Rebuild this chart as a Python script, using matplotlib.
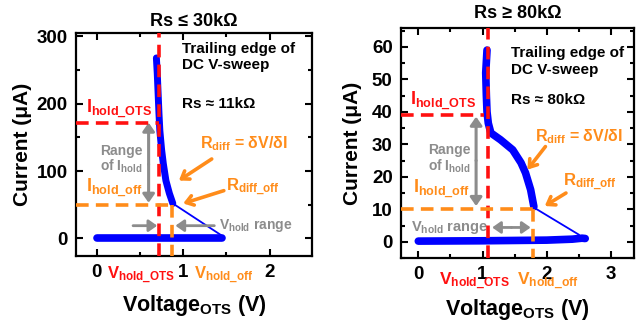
import matplotlib
matplotlib.use('Agg')
import matplotlib.pyplot as plt
from matplotlib.ticker import MultipleLocator
import matplotlib.transforms as mtransforms

plt.rcParams['font.family'] = ['Liberation Sans', 'DejaVu Sans']
plt.rcParams['font.weight'] = 'bold'
plt.rcParams['mathtext.fontset'] = 'custom'
plt.rcParams['mathtext.rm'] = 'Liberation Sans:bold'
plt.rcParams['mathtext.bf'] = 'Liberation Sans:bold'
plt.rcParams['mathtext.it'] = 'Liberation Sans:bold'
plt.rcParams['mathtext.default'] = 'rm'

# Datos leidos del grafico original
# Panel izquierdo: Rs <= 30 kOhm
izq_v_subida = [0.69, 0.70, 0.71, 0.72, 0.73, 0.75, 0.77, 0.80, 0.84, 0.88]
izq_i_subida = [268, 245, 215, 185, 160, 132, 111, 86, 67, 52]
izq_v_fina = [0.88, 1.45]
izq_i_fina = [52, 4]
izq_v_banda = [0.0, 1.45]
izq_i_banda = [0.0, 0.0]
izq_v_hold_ots = 0.72
izq_v_hold_off = 0.87
izq_i_hold_ots = 172
izq_i_hold_off = 50

# Panel derecho: Rs >= 80 kOhm
der_v_subida = [1.07, 1.05, 1.06, 1.07, 1.09, 1.13, 1.28, 1.47, 1.60, 1.67, 1.75, 1.80]
der_i_subida = [59, 52, 45, 40, 36.5, 33.5, 31.4, 28.3, 24.3, 21.2, 16, 10.8]
der_v_fina = [1.82, 2.50]
der_i_fina = [10.3, 2.2]
der_v_banda = [0.0, 1.0, 2.0, 2.4, 2.55, 2.6]
der_i_banda = [0.2, 0.3, 0.5, 0.8, 1.1, 1.0]
der_v_hold_ots = 1.09
der_v_hold_off = 1.79
der_i_hold_ots = 39
der_i_hold_off = 10

ROJO = '#ff1010'
NARANJA = '#ff8c1a'
GRIS = '#8c8c8c'
AZUL = '#0000ff'


def preparar_ejes(ax, xlim, ylim, xmaj, ymaj):
    ax.set_xlim(*xlim)
    ax.set_ylim(*ylim)
    ax.xaxis.set_major_locator(MultipleLocator(xmaj))
    ax.xaxis.set_minor_locator(MultipleLocator(xmaj / 2))
    ax.yaxis.set_major_locator(MultipleLocator(ymaj))
    ax.yaxis.set_minor_locator(MultipleLocator(ymaj / 2))
    ax.tick_params(which='both', direction='in', top=True, right=True, width=1.5)
    ax.tick_params(which='major', length=5, labelsize=13.5, pad=6)
    ax.tick_params(which='minor', length=3)
    for s in ax.spines.values():
        s.set_linewidth(1.6)
    for lab in ax.get_xticklabels() + ax.get_yticklabels():
        lab.set_fontweight('bold')
    ax.set_xlabel('Voltage$_{OTS}$ (V)', fontsize=15.5, fontweight='bold')
    ax.set_ylabel('Current (\u03bcA)', fontsize=15, fontweight='bold')


def flecha(ax, inicio, fin, color, estilo='->', lw=2.2):
    ax.annotate('', xy=fin, xytext=inicio,
                arrowprops=dict(arrowstyle=estilo + ',head_width=0.35,head_length=0.5',
                                color=color, lw=lw, shrinkA=0, shrinkB=0))


fig = plt.figure(figsize=(6.42, 3.21), dpi=100)
ax1 = fig.add_axes([76 / 642, 1 - 256 / 321, 236 / 642, 223 / 321])
ax2 = fig.add_axes([401 / 642, 1 - 258 / 321, 233 / 642, 230 / 321])

# ----- Panel izquierdo -----
preparar_ejes(ax1, (-0.24, 2.49), (-26, 305), 1, 100)
ax1.plot(izq_v_banda, izq_i_banda, color=AZUL, lw=5.5, solid_capstyle='round', zorder=3)
ax1.plot(izq_v_fina, izq_i_fina, color=AZUL, lw=1.3, zorder=3)
ax1.plot(izq_v_subida, izq_i_subida, color=AZUL, lw=5, solid_capstyle='round', zorder=3)
ax1.axvline(izq_v_hold_ots, color=ROJO, lw=2.6, dashes=(3.5, 2), zorder=4)
ax1.plot([-0.24, izq_v_hold_ots], [izq_i_hold_ots] * 2, color=ROJO, lw=2.6, dashes=(3.5, 2), zorder=4)
ax1.plot([-0.24, izq_v_hold_off], [izq_i_hold_off] * 2, color=NARANJA, lw=2.6, dashes=(3.5, 2), zorder=4)
ax1.plot([izq_v_hold_off] * 2, [izq_i_hold_off, -26], color=NARANJA, lw=2.6, dashes=(3.5, 2), zorder=4)

ax1.set_title('Rs \u2264 30k\u03a9', fontsize=13, fontweight='bold', pad=5)
ax1.text(0.99, 269, 'Trailing edge of\nDC V-sweep', fontsize=11, va='center', linespacing=1.2)
ax1.text(0.99, 200, 'Rs \u2248 11k\u03a9', fontsize=11, va='center')
ax1.text(-0.13, 192, 'I$_{hold\\_OTS}$', color=ROJO, fontsize=13, va='center')
ax1.text(-0.13, 74, 'I$_{hold\\_off}$', color=NARANJA, fontsize=13, va='center')
ax1.text(0.29, 117, 'Range\nof I$_{hold}$', color=GRIS, fontsize=10, ha='center', va='center',
         linespacing=1.0)
flecha(ax1, (0.60, 110), (0.60, izq_i_hold_ots), GRIS, '-|>', 2.2)
flecha(ax1, (0.60, 110), (0.60, izq_i_hold_off + 3), GRIS, '-|>', 2.2)
flecha(ax1, (0.42, 19), (0.70, 19), GRIS, '-|>', 2)
flecha(ax1, (1.36, 19), (0.91, 19), GRIS, '-|>', 2)
ax1.text(1.41, 19, 'V$_{hold}$ range', color=GRIS, fontsize=10, va='center')
ax1.text(1.2, 141, 'R$_{diff}$ = \u03b4V/\u03b4I', color=NARANJA, fontsize=11.5, va='center')
ax1.text(1.5, 76, 'R$_{diff\\_off}$', color=NARANJA, fontsize=12, va='center')
flecha(ax1, (1.33, 118), (0.95, 86), NARANJA, '->', 2.6)
flecha(ax1, (1.47, 71), (1.0, 52), NARANJA, '->', 2.6)

tr1 = mtransforms.blended_transform_factory(ax1.transData, ax1.transAxes)
ax1.text(0.12, -0.103, 'V$_{hold\\_OTS}$', color=ROJO, fontsize=12, transform=tr1, va='baseline')
ax1.text(1.12, -0.103, 'V$_{hold\\_off}$', color=NARANJA, fontsize=12, transform=tr1, va='baseline')
ax1.xaxis.set_label_coords(0.5, -0.165)
ax1.yaxis.set_label_coords(-0.186, 0.5)

# ----- Panel derecho -----
preparar_ejes(ax2, (-0.27, 3.36), (-5, 65.8), 1, 10)
ax2.plot(der_v_banda, der_i_banda, color=AZUL, lw=5.5, solid_capstyle='round', zorder=3)
ax2.plot(der_v_fina, der_i_fina, color=AZUL, lw=1.3, zorder=3)
ax2.plot(der_v_subida, der_i_subida, color=AZUL, lw=5.5, solid_capstyle='round', zorder=3)
ax2.axvline(der_v_hold_ots, color=ROJO, lw=2.6, dashes=(3.5, 2), zorder=4)
ax2.plot([-0.27, 1.03], [der_i_hold_ots] * 2, color=ROJO, lw=2.6, dashes=(3.5, 2), zorder=4)
ax2.plot([-0.27, der_v_hold_off], [der_i_hold_off] * 2, color=NARANJA, lw=2.6, dashes=(3.5, 2), zorder=4)
ax2.plot([der_v_hold_off] * 2, [der_i_hold_off, -5], color=NARANJA, lw=2.6, dashes=(3.5, 2), zorder=4)

ax2.set_title('Rs \u2265 80k\u03a9', fontsize=13, fontweight='bold', pad=7)
ax2.text(1.45, 55.5, 'Trailing edge of\nDC V-sweep', fontsize=11, va='center', linespacing=1.2)
ax2.text(1.45, 43.7, 'Rs \u2248 80k\u03a9', fontsize=11, va='center')
ax2.text(-0.13, 43.2, 'I$_{hold\\_OTS}$', color=ROJO, fontsize=13, va='center')
ax2.text(-0.08, 16, 'I$_{hold\\_off}$', color=NARANJA, fontsize=13, va='center')
ax2.text(0.48, 25.5, 'Range\nof I$_{hold}$', color=GRIS, fontsize=10, ha='center', va='center',
         linespacing=1.0)
flecha(ax2, (0.9, 25), (0.9, der_i_hold_ots - 0.5), GRIS, '-|>', 2.2)
flecha(ax2, (0.9, 25), (0.9, der_i_hold_off + 1), GRIS, '-|>', 2.2)
flecha(ax2, (1.45, 4.4), (1.15, 4.4), GRIS, '-|>', 2)
flecha(ax2, (1.45, 4.4), (1.75, 4.4), GRIS, '-|>', 2)
ax2.text(-0.12, 4.4, 'V$_{hold}$ range', color=GRIS, fontsize=10.5, va='center')
ax2.text(1.82, 32.4, 'R$_{diff}$ = \u03b4V/\u03b4I', color=NARANJA, fontsize=11.5, va='center')
ax2.text(2.26, 18.5, 'R$_{diff\\_off}$', color=NARANJA, fontsize=12, va='center')
flecha(ax2, (1.98, 29.3), (1.70, 22.2), NARANJA, '->', 2.6)
flecha(ax2, (2.3, 15), (1.97, 11), NARANJA, '->', 2.6)

tr2 = mtransforms.blended_transform_factory(ax2.transData, ax2.transAxes)
ax2.text(0.32, -0.117, 'V$_{hold\\_OTS}$', color=ROJO, fontsize=12.5, transform=tr2, va='baseline')
ax2.text(1.53, -0.117, 'V$_{hold\\_off}$', color=NARANJA, fontsize=12.5, transform=tr2, va='baseline')
ax2.xaxis.set_label_coords(0.5, -0.168)
ax2.yaxis.set_label_coords(-0.167, 0.5)

fig.savefig('out.png', dpi=100)
plt.close(fig)
